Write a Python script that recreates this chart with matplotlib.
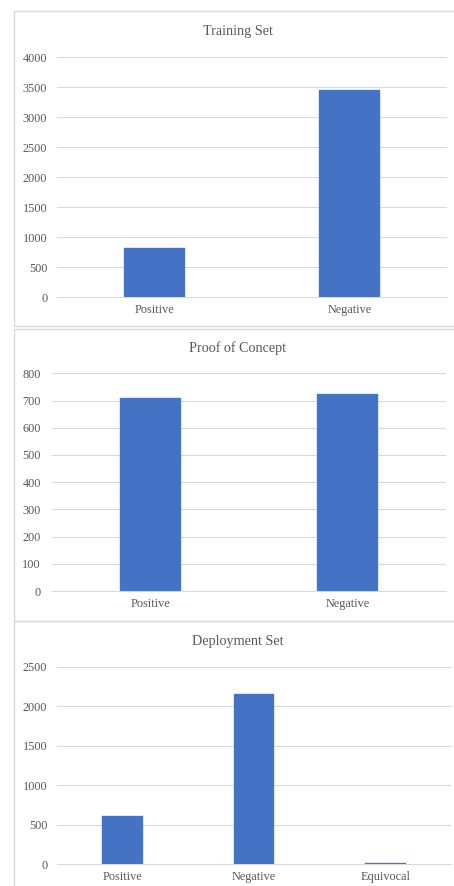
import matplotlib.pyplot as plt
from matplotlib.patches import Rectangle

# counts per set
training_labels = ["Positive", "Negative"]
training_counts = [820, 3445]

poc_labels = ["Positive", "Negative"]
poc_counts = [710, 725]

deploy_labels = ["Positive", "Negative", "Equivocal"]
deploy_counts = [607, 2158, 20]

W, H = 454, 886
BAR = "#4472C4"
GRID = "#d9d9d9"
TXT = "#595959"

plt.rcParams["font.family"] = ["Liberation Serif", "DejaVu Serif"]

fig = plt.figure(figsize=(W / 100, H / 100), dpi=100)


def px_axes(left, right, top, bottom):
    return fig.add_axes([left / W, 1 - bottom / H, (right - left) / W, (bottom - top) / H])


def panel(ax, title, title_y, labels, counts, ymax, step, ypad):
    x = list(range(len(labels)))
    ax.bar(x, counts, width=0.31, color=BAR, edgecolor="#5a83cc", linewidth=0.3, zorder=3)
    ax.set_xlim(-0.5, len(labels) - 0.5)
    ax.set_ylim(0, ymax)
    ax.set_yticks(range(0, ymax + 1, step))
    ax.set_xticks(x)
    ax.set_xticklabels(labels)
    ax.grid(axis="y", color=GRID, linewidth=0.75, zorder=0)
    ax.set_axisbelow(True)
    for s in ["top", "right", "left"]:
        ax.spines[s].set_visible(False)
    ax.spines["bottom"].set_color(GRID)
    ax.spines["bottom"].set_linewidth(0.75)
    ax.tick_params(axis="both", length=0, labelsize=8.8, colors=TXT)
    ax.tick_params(axis="y", pad=ypad)
    ax.tick_params(axis="x", pad=5)
    fig.text(238 / W, 1 - title_y / H, title, ha="center", va="center",
             fontsize=10.2, color=TXT)


ax1 = px_axes(57, 447, 57, 297)
panel(ax1, "Training Set", 32, training_labels, training_counts, 4000, 500, 7)

ax2 = px_axes(52, 446, 373.3, 591)
panel(ax2, "Proof of Concept", 348, poc_labels, poc_counts, 800, 100, 8)

ax3 = px_axes(57, 451, 666.7, 864.3)
panel(ax3, "Deployment Set", 641, deploy_labels, deploy_counts, 2500, 500, 7)

# chart frames
for top, bottom in [(11, 326), (329, 621), (621, 900)]:
    fig.patches.append(Rectangle((14 / W, 1 - bottom / H), (470 - 14) / W, (bottom - top) / H,
                                 transform=fig.transFigure, fill=False,
                                 edgecolor=GRID, linewidth=1.0))

fig.savefig("out.png", dpi=100)
